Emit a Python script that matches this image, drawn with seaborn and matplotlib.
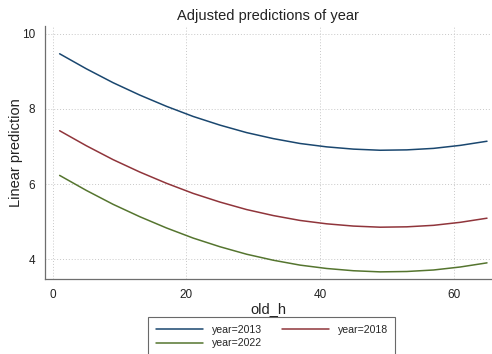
import numpy as np
import pandas as pd
import matplotlib
matplotlib.use("Agg")
import matplotlib.pyplot as plt
import seaborn as sns

# Margins of the fitted model over old_h, one curve per survey year
old_h = [1, 5, 9, 13, 17, 21, 25, 29, 33, 37, 41, 45, 49, 53, 57, 61, 65]
pred_2013 = [9.47, 9.07, 8.70, 8.37, 8.07, 7.80, 7.57, 7.37, 7.21, 7.08, 6.99, 6.93, 6.90, 6.91, 6.95, 7.03, 7.14]
pred_2018 = [7.42, 7.02, 6.65, 6.32, 6.02, 5.75, 5.52, 5.32, 5.16, 5.03, 4.94, 4.88, 4.85, 4.86, 4.90, 4.98, 5.09]
pred_2022 = [6.23, 5.83, 5.46, 5.13, 4.83, 4.56, 4.33, 4.13, 3.97, 3.84, 3.75, 3.69, 3.66, 3.67, 3.71, 3.79, 3.90]
series_labels = ["year=2013", "year=2018", "year=2022"]
x_ticks = [0, 20, 40, 60]
y_ticks = [4, 6, 8, 10]

df = pd.concat([
    pd.DataFrame({"old_h": old_h, "pred": vals, "series": lab})
    for vals, lab in zip([pred_2013, pred_2018, pred_2022], series_labels)
])

sns.set_style("white")
plt.rcParams["font.family"] = ["Liberation Sans", "DejaVu Sans"]

palette = {"year=2013": "#1a476f", "year=2018": "#90353b", "year=2022": "#55752f"}

fig = plt.figure(figsize=(4.92, 3.54), dpi=100)
ax = fig.add_axes([45 / 492, 1 - 279 / 354, (491 - 45) / 492, (279 - 26) / 354])

sns.lineplot(data=df, x="old_h", y="pred", hue="series", palette=palette,
             linewidth=1.1, ax=ax, legend=False)

ax.set_xlim(-1.19, 65.6)
ax.set_ylim(3.47, 10.21)
ax.set_xticks(x_ticks)
ax.set_yticks(y_ticks)
ax.grid(True, linestyle=(0, (1, 2)), color="#c8c8c8", linewidth=0.7)
for s in ["top", "right"]:
    ax.spines[s].set_visible(False)
for s in ["left", "bottom"]:
    ax.spines[s].set_color("#6e6e6e")
    ax.spines[s].set_linewidth(0.9)
ax.tick_params(axis="both", direction="out", length=4, width=0.8, color="#6e6e6e",
               labelsize=8.5, labelcolor="#222222", pad=3)
ax.set_xlabel("old_h", fontsize=10.5, color="#222222", labelpad=1)
ax.set_ylabel("Linear prediction", fontsize=10.5, color="#222222", labelpad=-1)
ax.set_title("Adjusted predictions of year", fontsize=10.5, color="#222222", pad=4)

# Row-wise order across two columns: 2013, 2018 on top, 2022 below
order = ["year=2013", "year=2022", "year=2018"]
handles = [plt.Line2D([], [], color=palette[k], linewidth=1.1) for k in order]
leg = fig.legend(handles, order, ncol=2, loc="upper left",
                 bbox_to_anchor=(148 / 492, 1 - 317 / 354),
                 frameon=True, fancybox=False, fontsize=7.6, handlelength=4.5,
                 columnspacing=1.9, handletextpad=0.8, borderpad=0.72,
                 labelspacing=0.35, borderaxespad=0)
leg.get_frame().set_edgecolor("#444444")
leg.get_frame().set_linewidth(0.8)

fig.savefig("out.png", dpi=100)
